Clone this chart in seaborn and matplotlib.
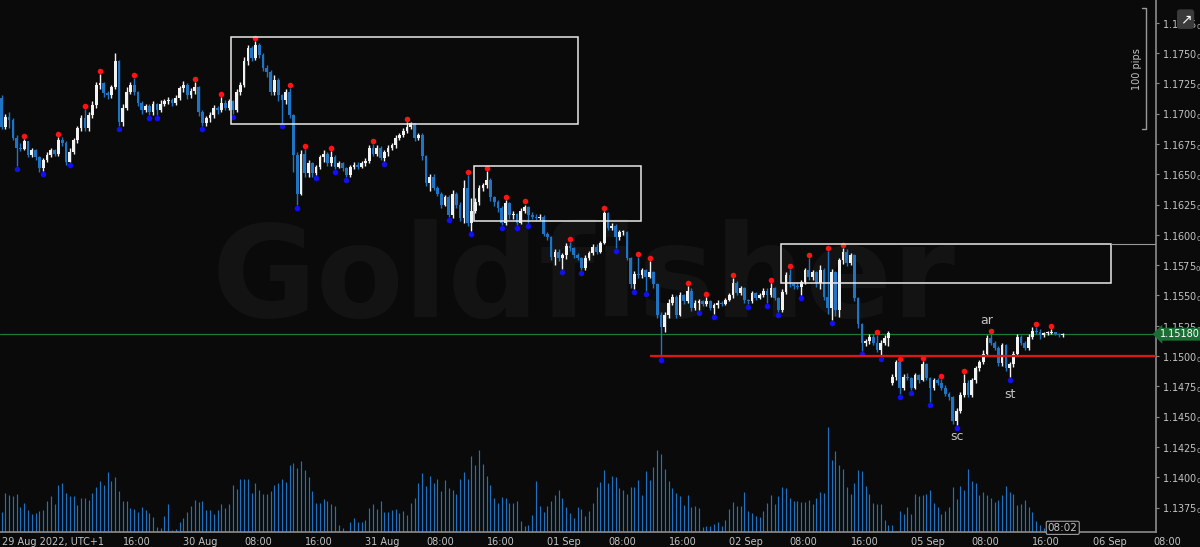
import numpy as np
import pandas as pd
import seaborn as sns
import matplotlib.pyplot as plt
from matplotlib.patches import Rectangle
import matplotlib.transforms as mtransforms

# EURUSD M30, prices given in pips above 1.1500
BASE = 1.1500
PIP = 0.0001

close_pips = [
    189, 197, 195, 180, 172, 171, 177, 166, 170, 164, 155, 162, 166, 170, 167, 178, 176, 160, 168, 178,
    188, 196, 188, 199, 207, 224, 225, 217, 215, 222, 243, 193, 205, 218, 224, 218, 209, 203, 206, 201,
    208, 203, 208, 210, 211, 209, 213, 221, 224, 215, 219, 222, 201, 192, 196, 199, 205, 203, 209, 205,
    210, 203, 218, 224, 243, 254, 246, 257, 248, 238, 234, 218, 228, 215, 211, 218, 199, 166, 134, 167,
    151, 159, 151, 156, 164, 167, 159, 164, 156, 159, 155, 149, 156, 158, 156, 159, 161, 172, 167, 172,
    163, 168, 172, 174, 180, 182, 186, 189, 192, 180, 182, 165, 143, 148, 139, 134, 125, 131, 116, 134,
    125, 114, 139, 110, 120, 127, 139, 141, 145, 131, 127, 122, 110, 126, 116, 117, 110, 120, 123, 116,
    115, 114, 115, 101, 98, 82, 86, 81, 83, 91, 89, 83, 81, 73, 81, 85, 90, 86, 93, 118,
    106, 107, 98, 102, 102, 81, 59, 68, 67, 71, 65, 69, 59, 34, 24, 34, 44, 49, 34, 50,
    45, 54, 40, 44, 45, 43, 45, 40, 42, 44, 43, 46, 50, 60, 52, 56, 46, 45, 52, 48,
    50, 54, 50, 56, 48, 38, 53, 67, 59, 58, 57, 61, 71, 65, 69, 60, 71, 49, 40, 69,
    38, 79, 86, 77, 83, 48, 26, 11, 12, 16, 11, 5, 11, 15, 19, -17, -5, -26, -17, -18,
    -26, -16, -20, -7, -18, -26, -20, -22, -26, -31, -34, -54, -45, -32, -22, -32, -20, -10, -5, 2,
    15, 11, 7, -6, 9, -10, -7, 2, 16, 11, 7, 16, 21, 20, 17, 19, 19, 20, 18, 17,
    18,
]
high_pips = [
    215, 200, 201, 196, 182, 176, 179, 176, 172, 171, 165, 163, 168, 172, 171, 181, 181, 177, 172, 180,
    190, 199, 204, 201, 210, 226, 233, 226, 219, 224, 250, 244, 208, 222, 226, 229, 219, 210, 208, 208,
    210, 209, 211, 212, 214, 213, 215, 223, 227, 225, 221, 226, 223, 203, 198, 201, 207, 206, 214, 211,
    212, 211, 220, 226, 247, 257, 256, 260, 258, 250, 240, 236, 232, 229, 216, 220, 221, 200, 168, 170,
    171, 162, 160, 158, 166, 170, 168, 169, 166, 161, 160, 156, 158, 160, 160, 161, 163, 174, 175, 174,
    173, 170, 174, 176, 182, 184, 188, 193, 193, 192, 184, 184, 166, 150, 150, 140, 135, 133, 133, 137,
    135, 127, 145, 149, 130, 130, 141, 143, 153, 147, 132, 129, 124, 129, 127, 120, 118, 122, 125, 124,
    119, 117, 117, 116, 102, 99, 88, 88, 85, 93, 94, 90, 85, 82, 83, 87, 92, 92, 95, 120,
    119, 110, 109, 104, 104, 103, 82, 70, 82, 73, 72, 78, 70, 60, 36, 36, 47, 51, 50, 53,
    51, 58, 56, 46, 47, 46, 49, 46, 44, 46, 45, 48, 52, 64, 62, 58, 57, 47, 54, 53,
    52, 56, 56, 60, 57, 49, 55, 69, 72, 60, 60, 63, 73, 81, 71, 70, 75, 73, 87, 72,
    70, 81, 89, 88, 85, 84, 49, 27, 14, 18, 18, 17, 13, 17, 21, -15, -3, -6, -15, -14,
    -17, -14, -15, -4, -6, -17, -18, -18, -19, -24, -30, -33, -43, -30, -15, -20, -18, -8, -3, 5,
    17, 18, 12, 8, 11, 10, -5, 4, 18, 17, 12, 18, 24, 24, 22, 20, 21, 22, 20, 19,
    19,
]
low_pips = [
    187, 187, 188, 178, 157, 169, 170, 164, 164, 162, 152, 153, 160, 164, 165, 165, 173, 158, 160, 167,
    176, 186, 186, 186, 196, 205, 220, 214, 212, 213, 220, 190, 190, 203, 216, 215, 206, 200, 201, 199,
    199, 199, 201, 206, 208, 206, 207, 211, 218, 212, 213, 216, 198, 190, 190, 193, 196, 200, 201, 203,
    203, 200, 201, 215, 222, 240, 243, 244, 246, 235, 230, 215, 215, 210, 192, 208, 196, 152, 125, 133,
    148, 148, 148, 149, 154, 160, 157, 157, 154, 155, 153, 148, 148, 154, 154, 155, 157, 159, 165, 165,
    162, 161, 165, 170, 172, 178, 181, 184, 187, 177, 178, 162, 140, 136, 137, 132, 122, 124, 115, 114,
    122, 111, 110, 107, 103, 118, 125, 136, 139, 128, 124, 119, 108, 108, 113, 113, 108, 109, 118, 110,
    113, 112, 112, 99, 96, 79, 75, 78, 72, 80, 87, 81, 79, 71, 71, 79, 83, 84, 85, 92,
    104, 104, 89, 96, 100, 79, 56, 55, 64, 64, 54, 64, 56, 31, -1, 20, 31, 42, 31, 33,
    43, 44, 37, 38, 38, 41, 41, 38, 35, 40, 41, 42, 45, 48, 50, 50, 44, 43, 44, 46,
    47, 49, 44, 49, 46, 36, 36, 51, 57, 55, 55, 50, 59, 63, 63, 57, 55, 46, 35, 30,
    33, 32, 76, 74, 75, 45, 23, 4, 8, 10, 9, 3, 0, 9, 8, -24, -20, -31, -28, -20,
    -28, -27, -22, -21, -20, -38, -28, -24, -28, -33, -36, -56, -57, -47, -34, -34, -34, -22, -12, -7,
    0, 9, 5, -8, -8, -12, -17, -9, 0, 9, 5, 5, 14, 18, 14, 16, 17, 18, 17, 16,
    16,
]
first_open_pips = 213
weekend_open_pips = {235: -22}

volume = [
    20, 39, 37, 36, 38, 25, 29, 22, 18, 19, 21, 22, 31, 36, 28, 47, 49, 39, 36, 36,
    27, 34, 34, 32, 39, 45, 51, 47, 60, 51, 55, 41, 31, 31, 24, 23, 20, 25, 22, 19,
    15, 5, 4, 16, 28, 2, 3, 10, 14, 20, 26, 32, 30, 31, 22, 22, 18, 22, 28, 24,
    28, 47, 43, 53, 53, 53, 39, 49, 42, 38, 38, 41, 47, 49, 53, 50, 67, 69, 64, 71,
    62, 55, 41, 29, 29, 33, 31, 28, 26, 7, 4, 1, 10, 14, 10, 10, 12, 24, 28, 23,
    31, 20, 20, 22, 23,
    19, 21, 17, 29, 34, 49, 59, 46, 56, 49, 53, 41, 52, 44, 42, 38, 53, 60, 53, 76,
    67, 82, 68, 56, 47, 34, 29, 35, 34, 29, 29, 31, 11, 6, 7, 17, 51, 26, 20, 26,
    31, 37, 42, 34, 25, 19, 14, 25, 23, 16, 21, 29, 45, 50, 62, 49, 56, 55, 44, 42,
    38, 45, 45, 52, 37, 61, 52, 65, 82, 78, 63, 51, 44, 39, 36, 27, 37, 25, 26, 24,
    5, 6, 6, 8, 10, 6, 12, 23, 30, 26,
    26, 40, 21, 19, 16, 15, 21, 29, 37, 28, 36, 45, 44, 34, 31, 31, 30, 30, 32, 28,
    34, 40, 39, 105, 72, 81, 67, 63, 45, 38, 49, 62, 61, 46, 38, 29, 28, 28, 12, 7,
    7, 1, 21, 18, 25, 18, 38, 36, 37, 38, 42, 29, 25, 18, 21, 25, 45, 33, 46, 42,
    63, 51, 49, 37, 40, 37, 34, 30, 32, 37, 46, 40, 38, 27, 28, 32, 25, 20, 11, 7,
    4, 1, 2, 2, 1, 1,
]

swing_highs = [6, 15, 22, 26, 35, 51, 58, 67, 76, 80, 87, 98, 107, 123, 128, 133, 138, 150, 159, 168,
               171, 181, 186, 193, 203, 208, 213, 218, 222, 231, 237, 243, 248, 254, 261, 273, 277]
swing_lows = [4, 11, 18, 31, 39, 41, 53, 61, 74, 78, 83, 88, 91, 101, 118, 124, 132, 136, 139, 148,
              153, 162, 167, 170, 174, 184, 188, 197, 202, 205, 211, 219, 227, 232, 237, 240, 245, 252, 266]

tick_pos = [0, 32, 48, 64, 80, 96, 112, 128, 144, 160, 176, 192, 208, 224, 240, 256, 272, 288, 304]
tick_text = ['29 Aug 2022, UTC+1', '16:00', '30 Aug', '08:00', '16:00', '31 Aug', '08:00', '16:00',
             '01 Sep', '08:00', '16:00', '02 Sep', '08:00', '16:00', '05 Sep', '08:00', '16:00',
             '06 Sep', '08:00']
price_ticks = [1.1375, 1.1400, 1.1425, 1.1450, 1.1475, 1.1500, 1.1525, 1.1550, 1.1575,
               1.1600, 1.1625, 1.1650, 1.1675, 1.1700, 1.1725, 1.1750, 1.1775]

# supply zones: (start bar, end bar, low, high)
zones = [(60.5, 152.0, 1.16915, 1.17630),
         (124.7, 168.7, 1.16110, 1.16570),
         (205.7, 292.7, 1.15600, 1.15920)]
support_level, support_start = 1.1500, 171.1
last_price = 1.15180
labels = [('ar', 260, 'high', 11), ('st', 266, 'low', -13), ('sc', 252, 'low', -8)]

BG = '#0a0a0a'
BLUE = '#1f74c4'
GREY = '#8c8c8c'
TXT = '#c4c4c4'

sns.set_theme(style='dark', rc={'figure.facecolor': BG, 'axes.facecolor': BG,
                                'savefig.facecolor': BG})
plt.rcParams['font.family'] = ['DejaVu Sans']

df = pd.DataFrame({'close': BASE + np.array(close_pips) * PIP,
                   'high': BASE + np.array(high_pips) * PIP,
                   'low': BASE + np.array(low_pips) * PIP})
df['open'] = df['close'].shift(1)
df.loc[0, 'open'] = BASE + first_open_pips * PIP
for k, v in weekend_open_pips.items():
    df.loc[k, 'open'] = BASE + v * PIP
df['high'] = df[['high', 'open', 'close']].max(axis=1)
df['low'] = df[['low', 'open', 'close']].min(axis=1)
n = len(df)
x = np.arange(n)

fig = plt.figure(figsize=(12, 5.47), dpi=100)
pos = [0, 15 / 547, 1156 / 1200, 532 / 547]
xlim = (-0.4, 304.6)
ylim = (1.135479, 1.179373)

# volume underneath
vax = fig.add_axes(pos, zorder=1)
vax.set_facecolor(BG)
vax.text(0.505, 0.47, 'Goldfisher', transform=vax.transAxes, ha='center', va='center',
         fontsize=92, fontweight='bold', color='#131313', zorder=0)
vax.vlines(x, 0, volume, colors='#1f72c2', lw=0.85, zorder=2)
vax.set_xlim(*xlim)
vax.set_ylim(0, 532)
vax.axis('off')

ax = fig.add_axes(pos, zorder=2)
ax.patch.set_alpha(0)

bull = df['close'] >= df['open']
cols = np.where(bull, '#f2f2f2', BLUE)
ax.vlines(x, df['low'], df['high'], colors=cols, lw=1, zorder=3)
body_low = np.minimum(df['open'], df['close'])
body_h = np.maximum((df['close'] - df['open']).abs(), 0.00008)
ax.bar(x, body_h, bottom=body_low, width=0.72, color=cols, lw=0, zorder=4)

sns.scatterplot(x=swing_highs, y=df['high'].iloc[swing_highs].values + 0.00025,
                color='#ff1414', s=16, linewidth=0, ax=ax, zorder=5)
sns.scatterplot(x=swing_lows, y=df['low'].iloc[swing_lows].values - 0.00025,
                color='#1010f0', s=16, linewidth=0, ax=ax, zorder=5)

for x0, x1, lo, hi in zones:
    ax.add_patch(Rectangle((x0, lo), x1 - x0, hi - lo, fill=False, ec='#e8e8e8', lw=1.1, zorder=6))
ax.plot([zones[2][1], xlim[1]], [zones[2][3], zones[2][3]], color='#9a9a9a', lw=0.8, zorder=6)

ax.axhline(last_price, color='#1c7a36', lw=0.9, zorder=2)
ax.hlines(support_level, support_start, xlim[1], color='#e01515', lw=1.6, zorder=6)

for txt, i, side, off in labels:
    yv = df['high'][i] if side == 'high' else df['low'][i]
    ax.annotate(txt, (i, yv), xytext=(0, off), textcoords='offset points', ha='center',
                va='center', color=TXT, fontsize=9)

# 100 pips bracket
bx = 302.0
ax.plot([bx - 1, bx, bx, bx - 1], [1.1787, 1.1787, 1.1687, 1.1687], color='#9a9a9a', lw=1,
        clip_on=False, zorder=6)
ax.text(bx - 2.4, 1.1737, '100 pips', rotation=90, ha='center', va='center', color=TXT, fontsize=7)

ax.set_xlim(*xlim)
ax.set_ylim(*ylim)
ax.set_xticks(tick_pos, tick_text)
for lbl in ax.get_xticklabels():
    lbl.set_horizontalalignment('left')
ax.yaxis.tick_right()
ax.set_yticks(price_ticks, [f'{v:.4f}' + r'$_{0}$' for v in price_ticks])
ax.tick_params(axis='both', colors=GREY, labelcolor=TXT, labelsize=7, length=2.5, width=0.8,
               direction='out', pad=1.5)
ax.tick_params(axis='x', pad=1)
for s in ['top', 'left']:
    ax.spines[s].set_visible(False)
for s in ['right', 'bottom']:
    ax.spines[s].set_visible(True)
    ax.spines[s].set_color(GREY)
    ax.spines[s].set_linewidth(1.2)
ax.grid(False)
ax.set_xlabel('')
ax.set_ylabel('')

# current price tag
trans = mtransforms.blended_transform_factory(ax.transAxes, ax.transData)
ax.text(1.003, last_price, '1.15180', transform=trans, ha='left', va='center', color='white',
        fontsize=7, zorder=10, clip_on=False,
        bbox=dict(boxstyle='larrow,pad=0.15', fc='#1b6e34', ec='none'))

# time marker
ax.annotate('08:02', (n - 1, 0), xycoords=('data', 'axes fraction'), xytext=(0, 3),
            textcoords='offset points', ha='center', va='center', color=TXT, fontsize=7.5,
            zorder=10, annotation_clip=False,
            bbox=dict(boxstyle='round,pad=0.15', fc=BG, ec='#a0a0a0', lw=0.8))

fig.text(0.988, 0.965, '\u2197', ha='center', va='center', color='white', fontsize=10,
         bbox=dict(boxstyle='round,pad=0.2', fc='#3a3a3a', ec='none'))

fig.savefig('out.png', dpi=100, facecolor=BG)
